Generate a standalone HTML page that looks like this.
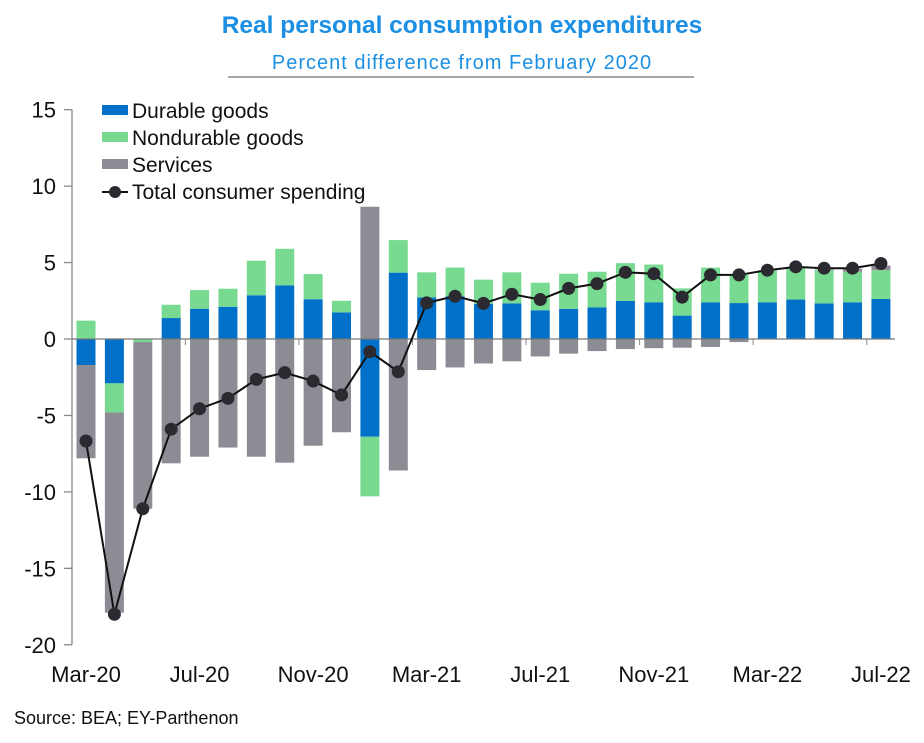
<!DOCTYPE html>
<html><head><meta charset="utf-8"><style>
body{margin:0;background:#fff;width:924px;height:738px;overflow:hidden;font-family:"Liberation Sans",Arial,sans-serif}
</style></head><body>
<svg width="924" height="738" xmlns="http://www.w3.org/2000/svg" font-family="Liberation Sans, Arial, sans-serif">
<text x="462" y="33" text-anchor="middle" font-size="24.5" font-weight="bold" fill="#1b8fe3">Real personal consumption expenditures</text>
<text x="462" y="69" text-anchor="middle" font-size="20" letter-spacing="1" fill="#1b8fe3">Percent difference from February 2020</text>
<line x1="228" y1="77" x2="694" y2="77" stroke="#8a8a8a" stroke-width="1.5"/>
<g id="axes"></g>
<g id="bars"></g>
<g id="line"></g>
<g>
<rect x="102" y="105" width="26" height="10" fill="#0070c8"/>
<text x="132" y="118" font-size="21" fill="#111">Durable goods</text>
<rect x="102" y="132" width="26" height="10" fill="#77da90"/>
<text x="132" y="145" font-size="21" fill="#111">Nondurable goods</text>
<rect x="102" y="159" width="26" height="10" fill="#8c8c95"/>
<text x="132" y="172" font-size="21" fill="#111">Services</text>
<line x1="102" y1="192" x2="128" y2="192" stroke="#111" stroke-width="2"/>
<circle cx="115" cy="192" r="6" fill="#2a2a30"/>
<text x="132" y="199" font-size="21" fill="#111">Total consumer spending</text>
</g>
<text x="14" y="724" font-size="18" fill="#111">Source:  BEA; EY-Parthenon</text>
</svg>
<script>
const categories=["Mar-20","Apr-20","May-20","Jun-20","Jul-20","Aug-20","Sep-20","Oct-20","Nov-20","Dec-20","Jan-21","Feb-21","Mar-21","Apr-21","May-21","Jun-21","Jul-21","Aug-21","Sep-21","Oct-21","Nov-21","Dec-21","Jan-22","Feb-22","Mar-22","Apr-22","May-22","Jun-22","Jul-22"];
const durable=[-1.7,-2.9,0,1.37,1.98,2.11,2.86,3.51,2.6,1.74,-6.39,4.34,2.72,2.8,2.3,2.33,1.88,1.97,2.06,2.49,2.4,1.53,2.4,2.35,2.4,2.58,2.33,2.4,2.62];
const nondurable=[1.2,-1.9,-0.2,0.87,1.22,1.18,2.26,2.39,1.65,0.76,-3.9,2.13,1.64,1.87,1.58,2.03,1.8,2.3,2.34,2.47,2.47,1.78,2.27,1.85,2.1,2.12,2.17,2.0,1.88];
const services=[-6.1,-13.1,-10.9,-8.13,-7.7,-7.1,-7.7,-8.09,-6.98,-6.1,8.65,-8.6,-2.03,-1.86,-1.6,-1.46,-1.14,-0.96,-0.79,-0.66,-0.6,-0.57,-0.52,-0.2,0,0,0.05,0.2,0.3];
const total=[-6.67,-18.0,-11.1,-5.9,-4.56,-3.88,-2.64,-2.2,-2.75,-3.66,-0.83,-2.14,2.36,2.8,2.33,2.93,2.58,3.31,3.62,4.36,4.27,2.74,4.19,4.19,4.5,4.72,4.63,4.63,4.94];
const yTicks=[15,10,5,0,-5,-10,-15,-20];
const xLabelIdx=[0,4,8,12,16,20,24,28];

const NS="http://www.w3.org/2000/svg";
const y0=339, pxPer=15.29, x0=86, step=28.39, bw=19;
const Y=v=>y0-v*pxPer, X=i=>x0+i*step;
function mk(tag,attrs,parent){const e=document.createElementNS(NS,tag);for(const k in attrs)e.setAttribute(k,attrs[k]);parent.appendChild(e);return e;}
const axes=document.getElementById('axes'),bars=document.getElementById('bars'),line=document.getElementById('line');
let e=mk('line',{x1:72,y1:Y(15),x2:72,y2:Y(-20),stroke:'#888','stroke-width':1.3},axes);


yTicks.forEach(t=>{
 let l=mk('line',{x1:64,y1:Y(t),x2:72,y2:Y(t),stroke:'#888','stroke-width':1.3},axes);
 
 
 let tx=mk('text',{x:56,y:Y(t)+8,'text-anchor':'end','font-size':22,fill:'#111'},axes);
 tx.textContent=t;
 
 
});
xLabelIdx.forEach(i=>{
 let tx=mk('text',{x:X(i),y:682,'text-anchor':'middle','font-size':22,fill:'#111'},axes);
 tx.textContent=categories[i];
 
 
 if(i>0){let l=mk('line',{x1:X(i-0.5),y1:y0,x2:X(i-0.5),y2:y0+6,stroke:'#888','stroke-width':1},axes);
 
 }
});
const series=[[durable,'#0070c8','durable'],[nondurable,'#77da90','nondurable'],[services,'#8c8c95','services']];
categories.forEach((c,i)=>{
 let pos=0,neg=0;
 series.forEach(([arr,col,nm])=>{
  const v=arr[i]; if(!v)return;
  let a,b;
  if(v>0){a=pos;b=pos+v;pos=b;}else{a=neg;b=neg+v;neg=b;}
  const r=mk('rect',{x:X(i)-bw/2,y:Math.min(Y(a),Y(b)),width:bw,height:Math.abs(Y(a)-Y(b)),fill:col},bars);
  
  
 });
});
let z=mk('line',{x1:72,y1:y0,x2:895,y2:y0,stroke:'#777','stroke-width':1.2},bars);


const p=mk('polyline',{points:total.map((v,i)=>X(i)+','+Y(v)).join(' '),fill:'none',stroke:'#111','stroke-width':2},line);


total.forEach((v,i)=>{
 const c=mk('circle',{cx:X(i),cy:Y(v),r:6.5,fill:'#2a2a30'},line);
 
 
});
</script>
</body></html>
